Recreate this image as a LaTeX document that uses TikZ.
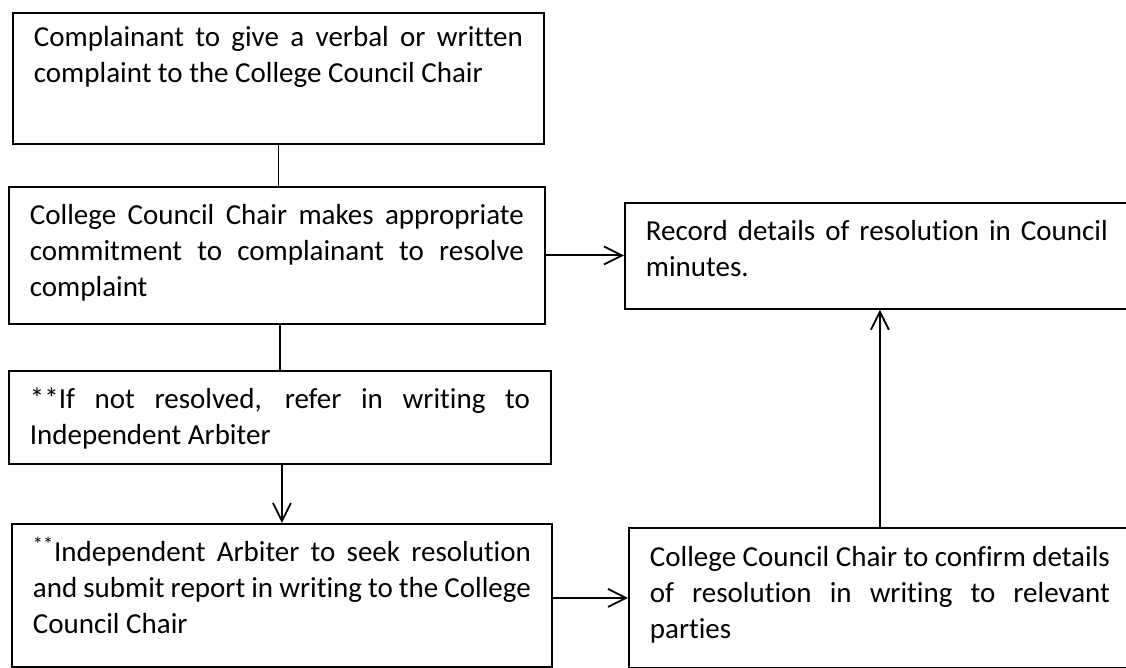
\documentclass[tikz,border=0pt]{standalone}
\usepackage{fontspec}
\setmainfont{Carlito}[Ligatures=NoCommon]
\usetikzlibrary{arrows.meta}

\begin{document}
\begin{tikzpicture}[x=0.5pt,y=-0.5pt,line width=0.9pt,
  >={Straight Barb[length=9pt,width=9pt]},
  procbox/.style={draw,anchor=north west,align=justify,inner xsep=10.5pt,
    inner ysep=0pt,font=\fontsize{14.5}{18}\selectfont}]
\useasboundingbox (0,0) rectangle (1126,668);
\node[procbox,text width=244.5pt,text height=17pt,text depth=48.5pt] (complaint) at (12,12)
  {Complainant to give a verbal or written\linebreak complaint to the College Council Chair};
\node[procbox,text width=247pt,text height=19pt,text depth=49.5pt] (commit) at (8,186)
  {College Council Chair makes appropriate\linebreak commitment to complainant to resolve\linebreak complaint};
\node[procbox,text width=250pt,text height=19pt,text depth=27.5pt] (refer) at (8,370)
  {**If not resolved, refer in writing to\linebreak Independent Arbiter};
\node[procbox,text width=249pt,text height=19pt,text depth=52.5pt] (arbiter) at (11,523)
  {\textsuperscript{**}Independent Arbiter to seek resolution\linebreak and submit report in writing to the College\linebreak Council Chair};
\node[procbox,text width=230pt,text height=19.5pt,text depth=50.5pt] (confirm) at (628,527)
  {College Council Chair to confirm details\linebreak of resolution in writing to relevant\linebreak parties};
\node[procbox,text width=231pt,text height=19pt,text depth=34pt] (record) at (624,202)
  {Record details of resolution in Council\linebreak minutes.};
% connectors
\draw (complaint.south) -- (complaint.south |- commit.north);
\draw (refer.north |- commit.south) -- (refer.north);
\draw[->] (refer.south -| arbiter.north) -- (arbiter.north);
\draw[->] (commit.east) -- (commit.east -| record.west);
\draw[->] (arbiter.east |- confirm.west) -- (confirm.west);
\draw[->] (confirm.north) -- (confirm.north |- record.south);
\end{tikzpicture}
\end{document}
